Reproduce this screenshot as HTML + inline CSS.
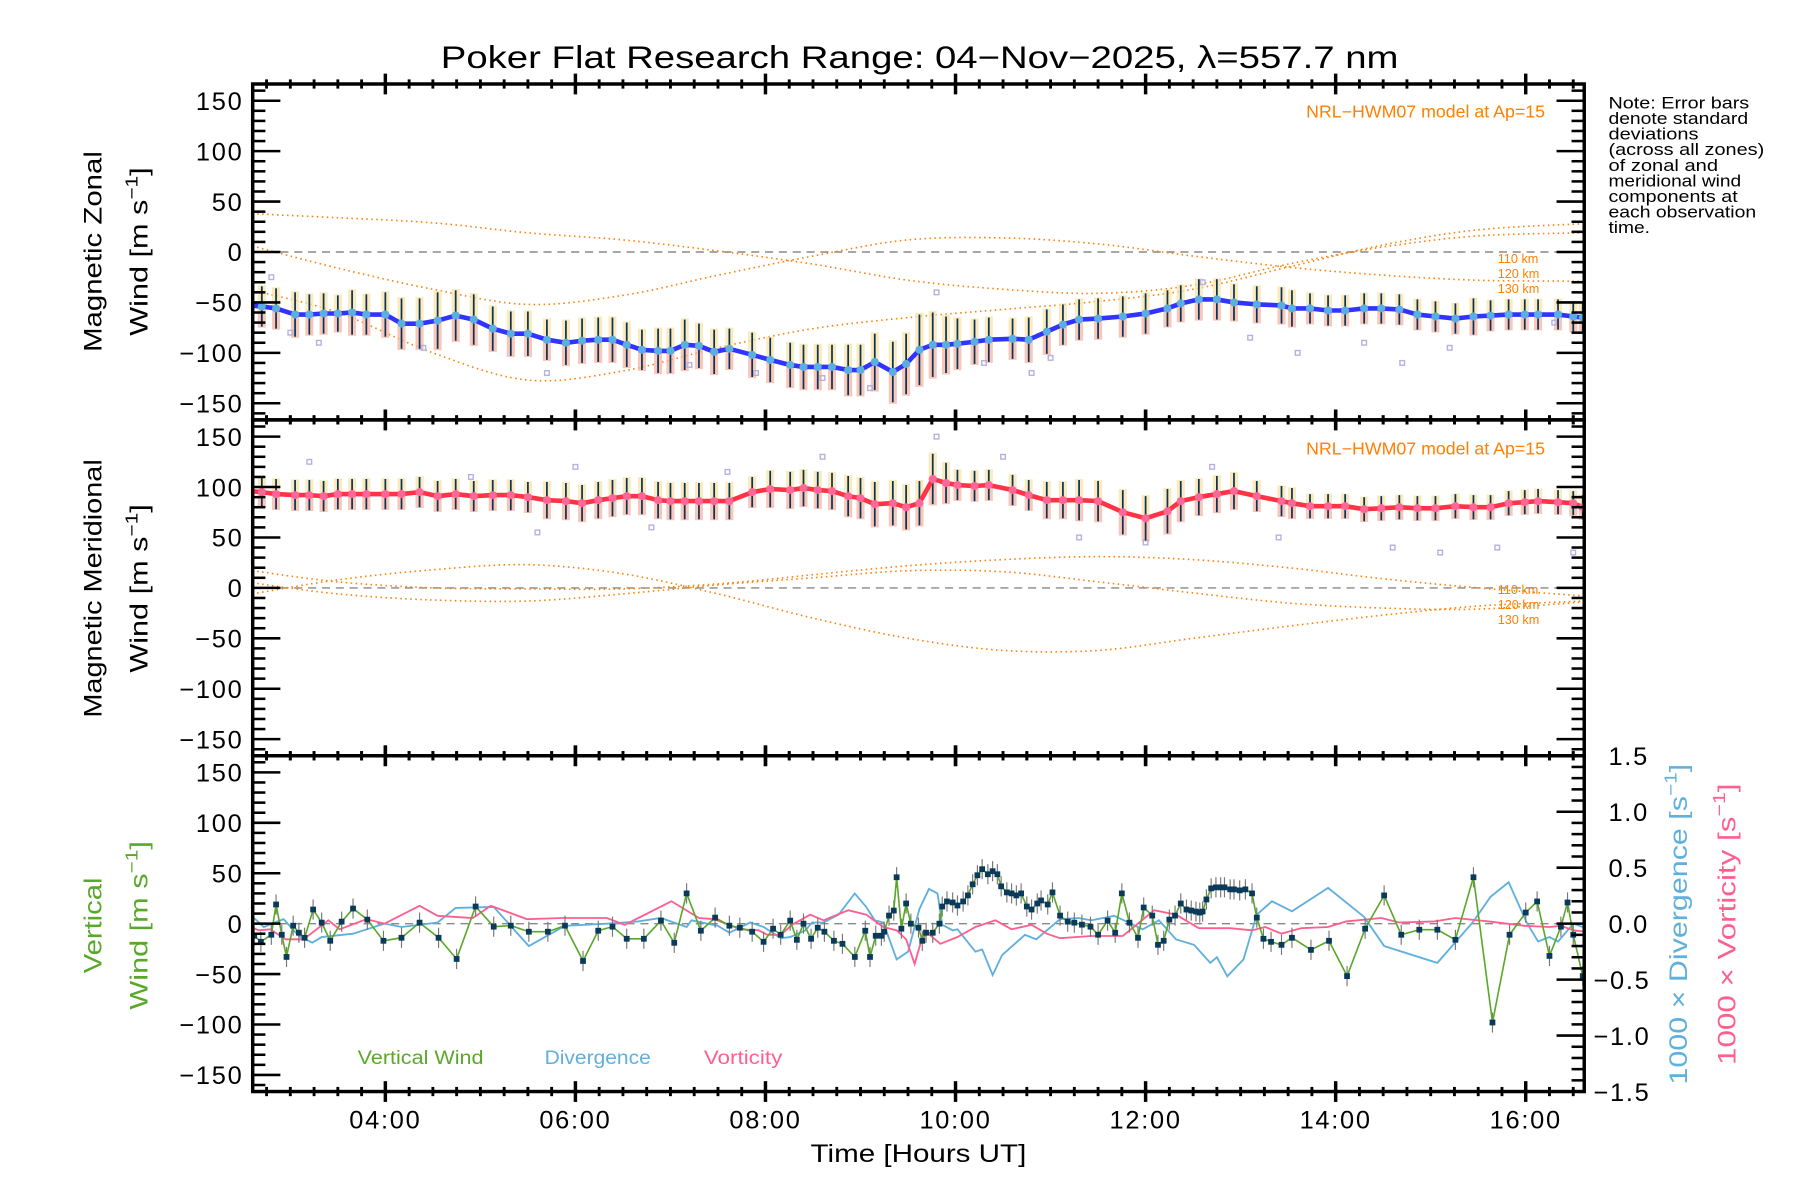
<!DOCTYPE html>
<html><head><meta charset="utf-8"><title>Poker Flat Research Range winds</title>
<style>
html,body{margin:0;padding:0;background:#fff;}
svg{display:block;font-family:"Liberation Sans",sans-serif;}
</style></head>
<body>
<svg id="chart" width="1800" height="1200" viewBox="0 0 1560 1040" xmlns="http://www.w3.org/2000/svg">
<rect x="0" y="0" width="1560" height="1040" fill="#fff"/>
<text x="797" y="59" font-size="27" text-anchor="middle" textLength="830" lengthAdjust="spacingAndGlyphs">Poker Flat Research Range: 04−Nov−2025, λ=557.7 nm</text>
<g id="layer-data"></g>
<g id="layer-axes"></g>
<g font-size="22">
<text transform="translate(88,218) rotate(-90)" text-anchor="middle" textLength="174" lengthAdjust="spacingAndGlyphs">Magnetic Zonal</text>
<text transform="translate(128,218) rotate(-90)" text-anchor="middle" textLength="146" lengthAdjust="spacingAndGlyphs">Wind [m s<tspan dy="-9" font-size="15">−1</tspan><tspan dy="9">]</tspan></text>
</g>
<g font-size="22">
<text transform="translate(88,510) rotate(-90)" text-anchor="middle" textLength="224" lengthAdjust="spacingAndGlyphs">Magnetic Meridional</text>
<text transform="translate(128,510) rotate(-90)" text-anchor="middle" textLength="146" lengthAdjust="spacingAndGlyphs">Wind [m s<tspan dy="-9" font-size="15">−1</tspan><tspan dy="9">]</tspan></text>
</g>
<g font-size="22" fill="#5aa82a">
<text transform="translate(88,802) rotate(-90)" text-anchor="middle" textLength="83" lengthAdjust="spacingAndGlyphs">Vertical</text>
<text transform="translate(128,802) rotate(-90)" text-anchor="middle" textLength="146" lengthAdjust="spacingAndGlyphs">Wind [m s<tspan dy="-9" font-size="15">−1</tspan><tspan dy="9">]</tspan></text>
</g>
<text transform="translate(1462,801) rotate(-90)" text-anchor="middle" font-size="22" fill="#5fb0dc" textLength="278" lengthAdjust="spacingAndGlyphs">1000 × Divergence [s<tspan dy="-9" font-size="15">−1</tspan><tspan dy="9">]</tspan></text>
<text transform="translate(1504,801) rotate(-90)" text-anchor="middle" font-size="22" fill="#ff5f8f" textLength="244" lengthAdjust="spacingAndGlyphs">1000 × Vorticity [s<tspan dy="-9" font-size="15">−1</tspan><tspan dy="9">]</tspan></text>
<text x="796" y="1007" font-size="22" text-anchor="middle" textLength="187" lengthAdjust="spacingAndGlyphs">Time [Hours UT]</text>
<g font-size="14">
<text x="1394" y="94" textLength="122" lengthAdjust="spacingAndGlyphs">Note: Error bars</text>
<text x="1394" y="107.5" textLength="121" lengthAdjust="spacingAndGlyphs">denote standard</text>
<text x="1394" y="121" textLength="78" lengthAdjust="spacingAndGlyphs">deviations</text>
<text x="1394" y="134.5" textLength="135" lengthAdjust="spacingAndGlyphs">(across all zones)</text>
<text x="1394" y="148" textLength="95" lengthAdjust="spacingAndGlyphs">of zonal and</text>
<text x="1394" y="161.5" textLength="115" lengthAdjust="spacingAndGlyphs">meridional wind</text>
<text x="1394" y="175" textLength="112" lengthAdjust="spacingAndGlyphs">components at</text>
<text x="1394" y="188.5" textLength="128" lengthAdjust="spacingAndGlyphs">each observation</text>
<text x="1394" y="202" textLength="36" lengthAdjust="spacingAndGlyphs">time.</text>
</g>
<g fill="#ff7f00">
<text x="1339" y="102" font-size="15" text-anchor="end" textLength="207" lengthAdjust="spacingAndGlyphs">NRL−HWM07 model at Ap=15</text>
<text x="1339" y="394" font-size="15" text-anchor="end" textLength="207" lengthAdjust="spacingAndGlyphs">NRL−HWM07 model at Ap=15</text>
<text x="1298" y="228" font-size="11">110 km</text>
<text x="1298" y="241" font-size="11">120 km</text>
<text x="1298" y="254" font-size="11">130 km</text>
<text x="1298" y="515" font-size="11">110 km</text>
<text x="1298" y="528" font-size="11">120 km</text>
<text x="1298" y="541" font-size="11">130 km</text>
</g>
<g font-size="17">
<text x="310" y="922" fill="#5aa82a" textLength="109" lengthAdjust="spacingAndGlyphs">Vertical Wind</text>
<text x="472" y="922" fill="#5fb0dc" textLength="92" lengthAdjust="spacingAndGlyphs">Divergence</text>
<text x="610" y="922" fill="#ff5f8f" textLength="68" lengthAdjust="spacingAndGlyphs">Vorticity</text>
</g>
</svg>
<script>
// ---- data ----
const obsTimes = [2.58,2.7,2.85,3.05,3.2,3.35,3.5,3.65,3.8,4.0,4.17,4.36,4.55,4.74,4.93,5.13,5.32,5.5,5.7,5.9,6.07,6.24,6.39,6.54,6.7,6.87,7.0,7.15,7.3,7.46,7.62,7.86,8.05,8.26,8.4,8.55,8.7,8.87,9.0,9.15,9.34,9.48,9.62,9.76,9.9,10.02,10.2,10.35,10.6,10.77,10.96,11.13,11.3,11.5,11.76,12.0,12.23,12.37,12.56,12.75,12.93,13.17,13.43,13.54,13.73,13.92,14.1,14.3,14.48,14.67,14.86,15.05,15.26,15.45,15.63,15.82,15.99,16.13,16.34,16.5,16.6];
const zonalValues = [-53,-54,-56,-62,-62,-61,-61,-60,-62,-62,-71,-71,-68,-63,-67,-76,-81,-81,-87,-90,-88,-87,-87,-92,-97,-98,-98,-92,-93,-99,-96,-102,-107,-112,-114,-114,-114,-117,-117,-109,-119,-111,-97,-92,-92,-91,-89,-87,-86,-87,-79,-72,-67,-66,-64,-61,-56,-51,-47,-47,-50,-52,-53,-56,-56,-58,-58,-56,-56,-57,-62,-64,-66,-64,-63,-62,-62,-62,-62,-64,-65];
const zonalStd = [18,20,20,22,20,20,18,22,20,22,25,25,28,25,25,22,22,22,20,22,22,22,22,22,20,22,22,25,22,22,20,22,22,22,22,22,22,25,25,28,30,30,35,32,28,25,22,22,20,22,22,20,20,20,20,20,18,18,20,20,18,18,18,18,15,15,15,15,15,15,15,15,15,18,15,15,15,15,15,15,15];
const meridValues = [96,95,93,92,92,91,93,93,93,93,93,95,91,93,91,92,92,90,87,86,84,87,89,91,91,87,86,86,86,86,86,95,98,97,99,97,96,91,89,83,84,80,84,108,104,102,101,102,97,92,87,87,87,86,75,69,76,86,90,93,96,91,86,84,81,81,81,78,79,80,79,79,81,80,80,84,85,86,85,84,80];
const meridStd = [15,15,15,15,15,15,15,15,15,15,15,15,15,15,15,15,15,15,18,18,18,18,18,18,18,18,18,18,18,18,18,15,18,18,18,18,18,20,20,22,22,22,22,25,20,15,15,15,15,15,18,18,20,20,22,22,22,20,18,18,18,15,15,15,12,12,12,12,12,12,12,12,12,12,12,12,12,12,12,12,12];
const zonalScatterT = [2.8,3.0,3.3,4.4,5.7,7.2,7.9,8.6,9.1,9.8,10.3,10.8,11.0,12.6,13.1,13.6,14.3,14.7,15.2,16.3];
const zonalScatterV = [-25,-80,-90,-95,-120,-112,-120,-125,-135,-40,-110,-120,-105,-30,-85,-100,-90,-110,-95,-70];
const meridScatterT = [3.2,4.9,5.6,6.8,8.6,9.8,10.5,11.3,12.0,12.7,13.4,14.6,15.1,15.7,16.5,6.0,7.6];
const meridScatterV = [125,110,55,60,130,150,130,50,45,120,50,40,35,40,35,120,115];
const modelTimes = [2.6,3.5,4.5,5.5,6.5,7.5,8.5,9.5,10.5,11.5,12.5,13.5,14.5,15.5,16.6];
const zonalModel110 = [38,34,29,19,12,1,-12,-28,-37,-41,-33,-12,5,16,19];
const zonalModel120 = [6,-16,-37,-52,-43,-23,-4,12,14,8,-4,-15,-23,-28,-29];
const zonalModel130 = [-38,-60,-100,-127,-118,-95,-76,-65,-57,-49,-37,-15,7,22,28];
const meridModel110 = [17,6,0,-1,-1,4,13,22,28,31,28,20,9,0,-8];
const meridModel120 = [5,-6,-12,-13,-6,3,10,17,16,6,-5,-15,-20,-21,-14];
const meridModel130 = [-6,8,18,23,14,-6,-30,-50,-62,-62,-50,-38,-27,-18,-13];
const vertTimes = [2.62,2.69,2.8,2.85,2.91,2.96,3.03,3.09,3.15,3.24,3.33,3.42,3.54,3.66,3.81,3.98,4.17,4.36,4.56,4.75,4.95,5.14,5.32,5.51,5.71,5.89,6.08,6.24,6.39,6.54,6.72,6.9,7.04,7.17,7.32,7.47,7.62,7.73,7.86,7.98,8.08,8.16,8.26,8.33,8.4,8.48,8.55,8.62,8.72,8.81,8.94,9.05,9.1,9.16,9.22,9.25,9.3,9.35,9.38,9.43,9.48,9.53,9.61,9.65,9.69,9.76,9.83,9.86,9.91,9.97,10.02,10.08,10.13,10.18,10.23,10.28,10.34,10.39,10.44,10.48,10.54,10.59,10.64,10.69,10.75,10.8,10.86,10.9,10.97,11.02,11.1,11.18,11.25,11.33,11.42,11.5,11.6,11.68,11.75,11.83,11.92,11.98,12.07,12.13,12.19,12.25,12.31,12.37,12.43,12.48,12.53,12.57,12.6,12.64,12.69,12.74,12.79,12.83,12.89,12.93,12.99,13.05,13.12,13.17,13.24,13.32,13.43,13.54,13.74,13.93,14.12,14.31,14.51,14.69,14.88,15.07,15.26,15.45,15.65,15.83,16.0,16.12,16.25,16.37,16.44,16.5,16.6];
const vertValues = [-12,-18,-11,19,-11,-33,-2,-9,-14,14,1,-17,2,15,4,-17,-14,1,-14,-35,17,-3,-2,-8,-8,-2,-37,-7,-3,-15,-15,3,-19,30,-7,6,-2,-4,-8,-18,-5,-11,3,-16,0,-15,-4,-8,-17,-20,-33,-7,-33,-12,-12,-8,8,13,46,-5,20,0,-4,-17,-9,-9,0,17,22,21,18,22,28,39,48,54,49,52,49,37,31,30,28,30,17,14,20,23,19,31,8,2,1,-1,-3,-11,3,-9,30,1,-14,16,8,-21,-17,4,8,20,14,13,12,11,12,24,35,36,36,36,34,34,33,34,30,6,-15,-18,-21,-14,-26,-17,-52,-5,28,-11,-6,-6,-16,46,-98,-11,11,22,-32,-3,21,-11,-52];
const divTimes = [2.58,2.72,2.93,3.09,3.23,3.33,3.66,3.99,4.17,4.55,4.74,5.14,5.51,5.89,6.33,6.66,6.9,7.17,7.22,7.5,7.62,7.84,7.98,8.16,8.26,8.42,8.49,8.61,8.77,8.94,9.06,9.15,9.24,9.38,9.5,9.62,9.72,9.81,9.86,9.97,10.02,10.21,10.28,10.39,10.49,10.73,10.85,11.1,11.29,11.43,11.67,11.97,12.14,12.32,12.51,12.68,12.75,12.86,13.03,13.17,13.33,13.54,13.92,14.3,14.51,15.07,15.45,15.63,15.82,16.01,16.13,16.25,16.34,16.5,16.6];
const divValues = [0.08,-0.03,0.04,-0.11,-0.17,-0.12,-0.09,0,-0.03,0.01,0.14,0.15,-0.2,-0.02,0,0.02,0.05,-0.03,0.03,-0.02,-0.08,0.01,-0.03,-0.13,-0.12,-0.06,0.01,0.01,0.08,0.27,0.15,0.03,0.01,-0.32,-0.25,0.13,0.31,0.27,-0.01,-0.06,-0.05,-0.25,-0.23,-0.46,-0.28,-0.1,-0.14,0.04,0.05,0.03,0.07,-0.05,0.03,-0.14,-0.19,-0.35,-0.3,-0.47,-0.32,0.08,0.2,0.11,0.32,0.06,-0.2,-0.35,0.02,0.24,0.37,0.01,-0.16,-0.12,-0.16,0,-0.03];
const vortTimes = [2.58,2.67,2.79,2.95,3.14,3.4,3.52,3.8,3.99,4.36,4.55,4.92,5.11,5.49,5.86,6.33,6.52,7.01,7.3,7.46,7.74,7.93,8.02,8.16,8.28,8.47,8.61,8.87,9.06,9.24,9.38,9.48,9.57,9.67,9.84,10.02,10.21,10.42,10.59,10.8,10.96,11.1,11.43,11.76,12.09,12.32,12.56,12.89,13.12,13.26,13.43,13.64,13.92,14.11,14.48,14.67,15.04,15.26,15.61,15.99,16.25,16.37,16.5,16.6];
const vortValues = [-0.03,-0.06,-0.05,-0.14,-0.14,0.03,-0.05,0.04,0,0.16,0.07,0.05,0.16,0.04,0.05,0.05,-0.01,0.2,0.05,0.04,-0.05,-0.06,-0.1,-0.1,-0.01,0.08,0.03,0.12,0.08,-0.03,-0.06,-0.14,-0.36,-0.06,-0.18,-0.12,-0.03,0.03,-0.05,-0.01,-0.09,-0.13,-0.11,-0.11,0.12,0.08,-0.04,-0.04,-0.06,-0.03,-0.09,-0.04,-0.03,0.02,0.05,0.01,0.02,0.05,0.02,-0.02,-0.03,-0.02,-0.06,-0.07];
const xTickLabels = ["04:00","06:00","08:00","10:00","12:00","14:00","16:00"];
const xTickHours = [4,6,8,10,12,14,16];
const yTickValues = [150,100,50,0,-50,-100,-150];
const rightTickValues = [1.5,1.0,0.5,0.0,-0.5,-1.0,-1.5];

// ---- scales ----
const X0 = 219, X1 = 1373, T0 = 2.604, PXH = 82.36;
const PY = 0.874, PYR = 97;
const panels = [{top:72.8,bot:363.9,zero:218.4},{top:363.9,bot:655,zero:509.5},{top:655,bot:946,zero:800.5}];
const xS = t => X0 + (t - T0) * PXH;
const yS = (p, v) => panels[p].zero - v * PY;
const yR = d => panels[2].zero - d * PYR;
const NS = "http://www.w3.org/2000/svg";
const dataLayer = document.getElementById('layer-data');
const axesLayer = document.getElementById('layer-axes');
function mk(tag, attrs, parent) {
  const el = document.createElementNS(NS, tag);
  for (const k in attrs) el.setAttribute(k, attrs[k]);
  parent.appendChild(el);
  return el;
}
function smoothPath(xs, ys) {
  let d = 'M' + xs[0].toFixed(1) + ',' + ys[0].toFixed(1);
  for (let i = 0; i < xs.length - 1; i++) {
    const x0 = xs[Math.max(i - 1, 0)], y0 = ys[Math.max(i - 1, 0)];
    const x1 = xs[i], y1 = ys[i], x2 = xs[i + 1], y2 = ys[i + 1];
    const x3 = xs[Math.min(i + 2, xs.length - 1)], y3 = ys[Math.min(i + 2, xs.length - 1)];
    d += ' C' + (x1 + (x2 - x0) / 6).toFixed(1) + ',' + (y1 + (y2 - y0) / 6).toFixed(1) + ' ' +
      (x2 - (x3 - x1) / 6).toFixed(1) + ',' + (y2 - (y3 - y1) / 6).toFixed(1) + ' ' + x2.toFixed(1) + ',' + y2.toFixed(1);
  }
  return d;
}
function polyPts(ts, vs, fy) {
  const n = Math.min(ts.length, vs.length);
  const a = [];
  for (let i = 0; i < n; i++) a.push(xS(ts[i]).toFixed(1) + ',' + fy(vs[i]).toFixed(1));
  return a.join(' ');
}

const defs = mk('defs', {}, dataLayer);
panels.forEach((p, i) => {
  const cp = mk('clipPath', {id: 'clip' + i}, defs);
  mk('rect', {x: X0, y: p.top, width: X1 - X0, height: p.bot - p.top}, cp);
});

panels.forEach((p, i) => {
  const z = mk('line', {x1: X0, x2: X1, y1: p.zero, y2: p.zero, stroke: '#888', 'stroke-width': 1.2, 'stroke-dasharray': '7 5'}, dataLayer);
  
  
});

function drawModel(p, vals, name) {
  const g = mk('g', {'clip-path': 'url(#clip' + p + ')'}, dataLayer);
  const n = Math.min(modelTimes.length, vals.length);
  const xs = [], ys = [];
  for (let i = 0; i < n; i++) { xs.push(xS(modelTimes[i])); ys.push(yS(p, vals[i])); }
  const path = mk('path', {d: smoothPath(xs, ys), fill: 'none', stroke: '#ff7f00', 'stroke-width': 1.4, 'stroke-dasharray': '1.3 3'}, g);
  
  
}
drawModel(0, zonalModel110, 'zonal-model-110km');
drawModel(0, zonalModel120, 'zonal-model-120km');
drawModel(0, zonalModel130, 'zonal-model-130km');
drawModel(1, meridModel110, 'meridional-model-110km');
drawModel(1, meridModel120, 'meridional-model-120km');
drawModel(1, meridModel130, 'meridional-model-130km');

function drawWind(p, vals, stds, sT, sV, lineColor, markColor, name) {
  const g = mk('g', {'clip-path': 'url(#clip' + p + ')'}, dataLayer);
  
  
  const n = Math.min(obsTimes.length, vals.length, stds.length);
  for (let i = 0; i < n; i++) {
    const x = xS(obsTimes[i]);
    const s = stds[i];
    const b1 = mk('rect', {x: x - 3.5, y: yS(p, vals[i] + s * 1.05), width: 7, height: s * 1.05 * PY, fill: '#f8e3a6', opacity: 0.75}, g);
    
    
    const b2 = mk('rect', {x: x - 3.5, y: yS(p, vals[i]), width: 7, height: s * 1.05 * PY, fill: '#f7b3a3', opacity: 0.75}, g);
    
    
  }
  const ns = Math.min(sT.length, sV.length);
  for (let i = 0; i < ns; i++) {
    const sq = mk('rect', {x: xS(sT[i]) - 2, y: yS(p, sV[i]) - 2, width: 4, height: 4, fill: 'none', stroke: '#b4b0e0', 'stroke-width': 1.2}, g);
    
    
  }
  for (let i = 0; i < n; i++) {
    const x = xS(obsTimes[i]);
    const eb = mk('line', {x1: x, x2: x, y1: yS(p, vals[i] + stds[i]), y2: yS(p, vals[i] - stds[i]), stroke: '#0a3355', 'stroke-width': 1.5}, g);
    
    
  }
  const line = mk('polyline', {points: polyPts(obsTimes, vals, v => yS(p, v)), fill: 'none', stroke: lineColor, 'stroke-width': 4, 'stroke-linejoin': 'round'}, g);
  
  
  for (let i = 0; i < n; i++) {
    const c = mk('circle', {cx: xS(obsTimes[i]), cy: yS(p, vals[i]), r: 3.5, fill: markColor}, g);
    
    
  }
}
drawWind(0, zonalValues, zonalStd, zonalScatterT, zonalScatterV, '#3333ff', '#5aaee0', 'zonal-wind');
drawWind(1, meridValues, meridStd, meridScatterT, meridScatterV, '#ff3344', '#ff6699', 'meridional-wind');

const g3 = mk('g', {'clip-path': 'url(#clip2)'}, dataLayer);


const divLine = mk('polyline', {points: polyPts(divTimes, divValues, yR), fill: 'none', stroke: '#5fb0dc', 'stroke-width': 1.6}, g3);


const vortLine = mk('polyline', {points: polyPts(vortTimes, vortValues, yR), fill: 'none', stroke: '#ff5f8f', 'stroke-width': 1.6}, g3);


const nv = Math.min(vertTimes.length, vertValues.length);
for (let i = 0; i < nv; i++) {
  const x = xS(vertTimes[i]);
  const e = mk('line', {x1: x, x2: x, y1: yS(2, vertValues[i] + 10), y2: yS(2, vertValues[i] - 10), stroke: '#777', 'stroke-width': 1}, g3);
  
  
}
const vLine = mk('polyline', {points: polyPts(vertTimes, vertValues, v => yS(2, v)), fill: 'none', stroke: '#5aa82a', 'stroke-width': 1.4}, g3);


for (let i = 0; i < nv; i++) {
  const s = mk('rect', {x: xS(vertTimes[i]) - 2.5, y: yS(2, vertValues[i]) - 2.5, width: 5, height: 5, fill: '#0a3a5a'}, g3);
  
  
}

// ---- axes ----
const ax = mk('g', {stroke: '#000'}, axesLayer);
panels.forEach((p, pi) => {
  const fr = mk('rect', {x: X0, y: p.top, width: X1 - X0, height: p.bot - p.top, fill: 'none', 'stroke-width': 3}, ax);
  
  
  for (let v = -160; v <= 160; v += 10) {
    const y = yS(pi, v);
    if (y < p.top + 1 || y > p.bot - 1) continue;
    const L = (v % 50 === 0) ? 24 : 11;
    mk('line', {x1: X0, x2: X0 + L, y1: y, y2: y, 'stroke-width': 2.2}, ax);
    if (pi < 2) mk('line', {x1: X1, x2: X1 - L, y1: y, y2: y, 'stroke-width': 2.2}, ax);
  }
  for (let m = 0; ; m++) {
    const t = 2.75 + m * 0.25;
    if (t > 16.6) break;
    const x = xS(t);
    const major = Math.abs(t / 2 - Math.round(t / 2)) < 1e-6;
    const L = major ? 9 : 4;
    mk('line', {x1: x, x2: x, y1: p.top - L, y2: p.top + L, 'stroke-width': major ? 3 : 2.5}, ax);
    mk('line', {x1: x, x2: x, y1: p.bot - L, y2: p.bot + L, 'stroke-width': major ? 3 : 2.5}, ax);
  }
});
for (let d = -15; d <= 15; d++) {
  const y = yR(d / 10);
  if (y < panels[2].top + 1 || y > panels[2].bot - 1) continue;
  const L = (d % 5 === 0) ? 24 : 11;
  mk('line', {x1: X1, x2: X1 - L, y1: y, y2: y, 'stroke-width': 2.2}, ax);
}
const tl = mk('g', {'font-size': 22, fill: '#000', 'letter-spacing': '1.5'}, axesLayer);
panels.forEach((p, pi) => {
  yTickValues.forEach(v => {
    const t = mk('text', {x: 211, y: yS(pi, v) + 8, 'text-anchor': 'end'}, tl);
    t.textContent = (v < 0 ? '−' : '') + Math.abs(v);
    
    
  });
});
rightTickValues.forEach(d => {
  const t = mk('text', {x: d < 0 ? 1381 : 1394, y: yR(d) + 8, 'text-anchor': 'start'}, tl);
  t.textContent = (d < 0 ? '−' : '') + Math.abs(d).toFixed(1);
  
  
});
xTickHours.forEach((h, i) => {
  const t = mk('text', {x: xS(h), y: 978, 'text-anchor': 'middle'}, tl);
  t.textContent = xTickLabels[i];
  
  
});
</script>
</body></html>
